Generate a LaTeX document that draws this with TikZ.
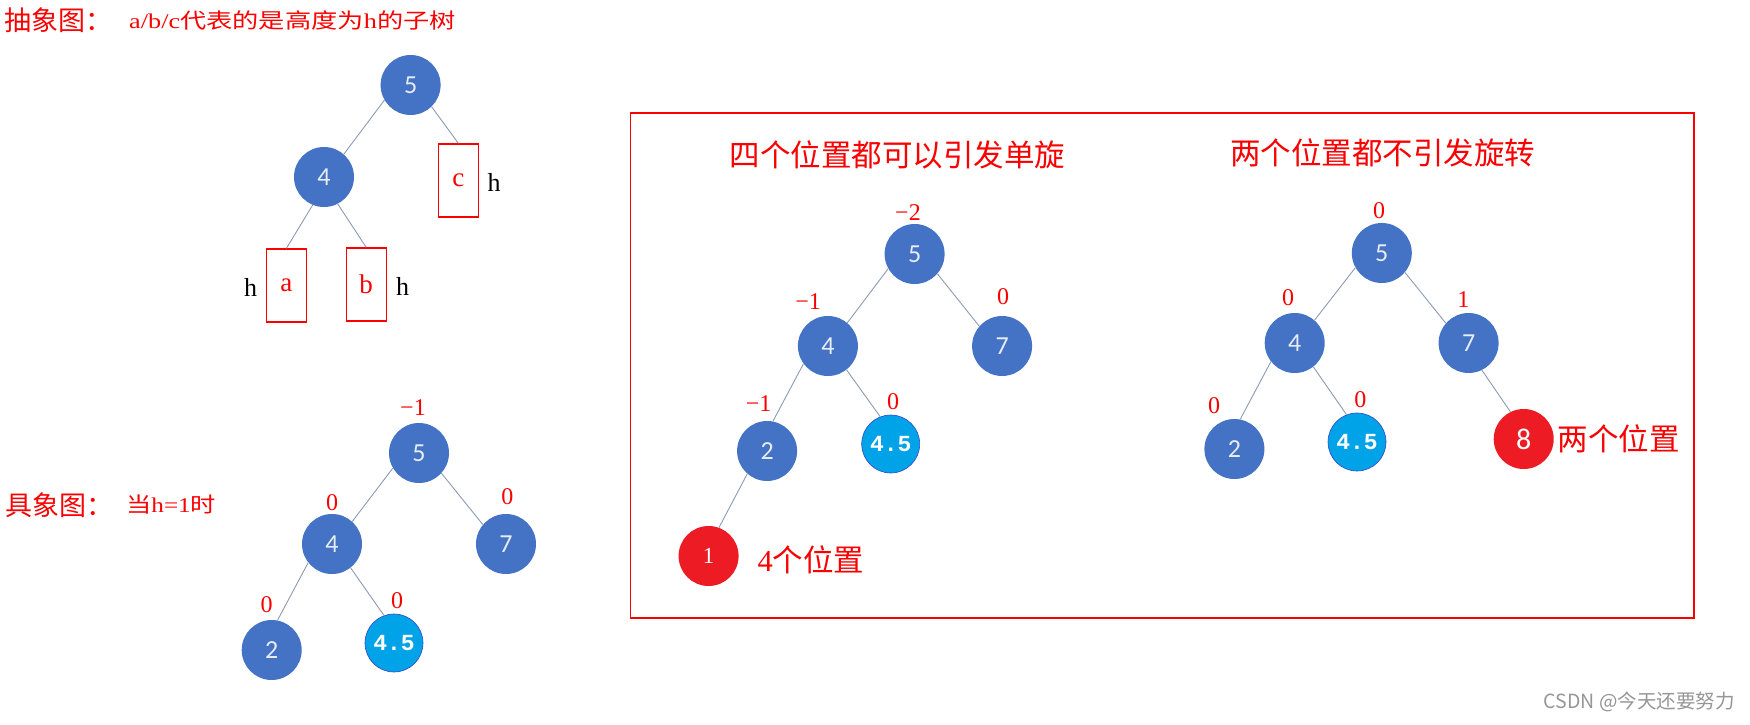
\documentclass[tikz,border=0pt]{standalone}
\usepackage{fontspec}
\setmainfont{Liberation Serif}
\newfontfamily\cjk{Noto Sans CJK SC}
\newfontfamily\carl{Carlito}
\newfontfamily\lmono{Liberation Mono}
\definecolor{nblue}{RGB}{68,114,196}
\definecolor{lblue}{RGB}{0,162,232}
\definecolor{lborder}{RGB}{50,70,200}
\definecolor{rnode}{RGB}{237,28,36}
\definecolor{txtred}{RGB}{250,0,0}
\definecolor{edgec}{RGB}{140,155,180}
\definecolor{ntext}{RGB}{232,237,245}
\definecolor{wmgray}{RGB}{150,150,150}
\newcommand{\hstretch}[2]{\scalebox{#1}[1]{#2}}
\begin{document}
\begin{tikzpicture}[x=1pt,y=-1pt,
  bn/.style={circle,fill=nblue,inner sep=0pt,minimum size=60pt,text=ntext,font=\carl\fontsize{26}{26}\selectfont},
  ln/.style={circle,fill=lblue,draw=lborder,line width=0.6pt,inner sep=0pt,minimum size=58pt,text=white,font=\lmono\bfseries\fontsize{23}{23}\selectfont},
  rn/.style={circle,fill=rnode,inner sep=0pt,minimum size=60pt,text=white},
  bal/.style={text=txtred,font=\fontsize{24}{24}\selectfont,inner sep=0pt},
  ed/.style={draw=edgec,line width=0.9pt},
  sub/.style={draw=txtred,line width=1.3pt,minimum width=40pt,minimum height=73pt,inner sep=0pt,text=txtred,font=\fontsize{27}{27}\selectfont},
  hl/.style={font=\fontsize{26}{26}\selectfont,inner sep=0pt},
  bigt/.style={text=txtred,font=\cjk\fontsize{27}{27}\selectfont,inner sep=0pt,anchor=west},
  smallt/.style={text=txtred,font=\cjk\fontsize{21}{21}\selectfont,inner sep=0pt,anchor=west},
  boxt/.style={text=txtred,font=\cjk\fontsize{30.5}{30.5}\selectfont,inner sep=0pt},
]
\fill[white] (0,0) rectangle (1750,725);
\useasboundingbox (0,0) rectangle (1750,725);

% ---------- headings ----------
\node[bigt] (t1) at (4,20) {抽象图：};
\node[smallt] (t1b) at (129,20) {\hstretch{1.25}{{\rmfamily a/b/c}代表的是高度为{\rmfamily h}的子树}};
\node[bigt] (t2) at (5,505) {具象图：};
\node[smallt] (t2b) at (126,505) {\hstretch{1.2}{当{\rmfamily h=1}时}};

% ---------- abstract tree ----------
\node[bn] (a5) at (410.6,85) {5};
\node[bn] (a4) at (324,177) {4};
\node[sub] (bc) at (458.4,180.5) {c};
\node[sub] (ba) at (286.4,285.5) {a};
\node[sub] (bb) at (366.2,284.5) {b};
\node[hl] (hc) at (494,182) {h};
\node[hl] (ha) at (250.6,287) {h};
\node[hl] (hb) at (402.5,286) {h};
\draw[ed] (a5.210) -- (a4.49);
\draw[ed] (a5.314) -- (bc.north);
\draw[ed] (a4.248) -- (ba.north);
\draw[ed] (a4.297) -- (bb.north);

% ---------- concrete tree ----------
\node[bn] (c5) at (419,453) {5};
\node[bn] (c4) at (332,544) {4};
\node[bn] (c7) at (506,544) {7};
\node[bn] (c2) at (271.7,650) {2};
\node[ln] (c45) at (394,643) {4.5};
\node[bal] (cl5) at (413,408) {−1};
\node[bal] (cl4) at (332,503) {0};
\node[bal] (cl7) at (507.4,497) {0};
\node[bal] (cl2) at (266.7,605) {0};
\node[bal] (cl45) at (397,601) {0};
\draw[ed] (c5.210) -- (c4.48);
\draw[ed] (c5.318) -- (c7.140);
\draw[ed] (c4.218) -- (c2.79);
\draw[ed] (c4.308) -- (c45.110);

% ---------- framed panel ----------
\draw[draw=txtred,line width=1.2pt] (630.7,113) rectangle (1694,618);
\node[boxt] (p1) at (897.7,155) {四个位置都可以引发单旋};
\node[boxt] (p2) at (1382.7,153) {两个位置都不引发旋转};

% left tree in panel
\node[bn] (l5) at (914.6,254) {5};
\node[bn] (l4) at (827.9,346) {4};
\node[bn] (l7) at (1002.1,346) {7};
\node[bn] (l2) at (767.1,451) {2};
\node[ln] (l45) at (890.7,444) {4.5};
\node[rn,font=\fontsize{23}{23}\selectfont] (l1) at (708.6,556) {1};
\node[boxt,anchor=west] (l1t) at (757.5,560) {{\rmfamily 4}个位置};
\node[bal] (ll5) at (908,213) {−2};
\node[bal] (ll4) at (808.2,302) {−1};
\node[bal] (ll7) at (1003.2,297) {0};
\node[bal] (ll2) at (758.6,404) {−1};
\node[bal] (ll45) at (893.2,402) {0};
\draw[ed] (l5.209) -- (l4.50);
\draw[ed] (l5.319) -- (l7.139);
\draw[ed] (l4.216) -- (l2.79);
\draw[ed] (l4.308) -- (l45.111);
\draw[ed] (l2.229) -- (l1.70);

% right tree in panel
\node[bn] (r5) at (1381.8,253) {5};
\node[bn] (r4) at (1294.7,343) {4};
\node[bn] (r7) at (1468.6,343) {7};
\node[bn] (r2) at (1234.4,449) {2};
\node[ln] (r45) at (1357,442) {4.5};
\node[rn,font=\carl\fontsize{30}{30}\selectfont] (r8) at (1523.7,439) {8};
\node[boxt,anchor=west] (r8t) at (1557.4,439) {两个位置};
\node[bal] (rl5) at (1379,211) {0};
\node[bal] (rl4) at (1288.1,298) {0};
\node[bal] (rl7) at (1463.4,300) {1};
\node[bal] (rl2) at (1214.1,406) {0};
\node[bal] (rl45) at (1360.4,400) {0};
\draw[ed] (r5.209) -- (r4.49);
\draw[ed] (r5.320) -- (r7.139);
\draw[ed] (r4.218) -- (r2.79);
\draw[ed] (r4.308) -- (r45.111);
\draw[ed] (r7.296) -- (r8.116);

% watermark
\node[text=wmgray,font=\cjk\fontsize{19.5}{19.5}\selectfont,inner sep=0pt,anchor=east] (wm) at (1735,702) {CSDN @今天还要努力};
\end{tikzpicture}
\end{document}
